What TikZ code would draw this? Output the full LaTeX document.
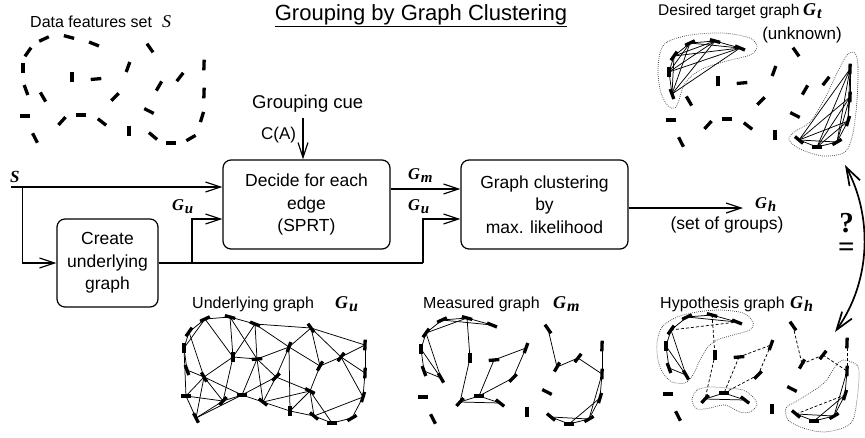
\documentclass[tikz,border=0pt]{standalone}
\usepackage{fontspec}
\setmainfont{Liberation Sans}
\newfontfamily\tms{Liberation Serif}
\usetikzlibrary{arrows.meta}
\newcommand\glab[4]{{\tms\bfseries\itshape\fontsize{#1}{#1}\selectfont #3\kern0.8pt\raisebox{-0.2em}{\fontsize{#2}{#2}\selectfont #4}}}
\def\featlist{1/28/52/55,2/44/39/25,3/69/37/-15,4/94/44/-22,5/150/48/-55,6/204/65/88,7/23/68/90,8/72/77/90,9/96/79/5,10/128/67/70,11/180/77/52,12/159/86/60,13/26/90/-70,14/43/97/-60,15/115/97/45,16/204/93/88,17/25/116/0,18/62/121/48,19/81/115/0,20/102/122/-38,21/149/111/-27,22/202/117/73,23/35/138/-63,24/129/131/90,25/153/136/-40,26/171/143/0,27/191/138/30}
\newcommand\placefeatures[3]{\foreach \i/\x/\y/\a in \featlist {\coordinate (#1\i) at ({#2+\x},{#3+\y});}}
\newcommand\drawfeatures[1]{\foreach \i/\x/\y/\a in \featlist {\draw[fd] (#1\i) ++({-(\a)}:5.3) -- ++({180-(\a)}:10.6);}}
\begin{document}
\begin{tikzpicture}[x=1pt,y=-1pt,
  fd/.style={line width=3.3pt, line cap=butt},
  ge/.style={line width=0.75pt},
  gd/.style={line width=0.75pt, dash pattern=on 3pt off 2pt},
  outl/.style={line width=0.7pt, dash pattern=on 0.8pt off 1.2pt, black!75},
  box/.style={draw, line width=1.2pt, rounded corners=8pt, align=center, inner sep=0pt, font=\fontsize{17.5}{22.5}\selectfont},
  ln/.style={line width=1.2pt},
  conn/.style={line width=1.2pt, -{Straight Barb[length=15pt,width=10pt]}},
  txt/.style={inner sep=0pt, anchor=base west}]
\useasboundingbox (0,0) rectangle (865,437);

% titles and captions
\node[txt, anchor=base, font=\fontsize{22}{22}\selectfont] (title) at (421,20.5) {Grouping by Graph Clustering};
\draw[line width=1.1pt] ([yshift=-1pt]title.south west) -- ([yshift=-1pt]title.south east);
\node[txt, font=\fontsize{16}{16}\selectfont] (dfs) at (30,27.3) {Data features set\hspace{10pt}{\tms\itshape\fontsize{18}{18}\selectfont S}};
\node[txt, font=\fontsize{15.5}{15.5}\selectfont] (dtg) at (658,15) {Desired target graph};
\node[txt] (gt) at (803,15) {\glab{18}{16}{G}{t}};
\node[txt, anchor=base, font=\fontsize{17}{17}\selectfont] (unk) at (802,39) {(unknown)};
\node[txt, font=\fontsize{16}{16}\selectfont] (cu) at (192,308) {Underlying graph};
\node[txt] (cug) at (335,308) {\glab{18}{16}{G}{u}};
\node[txt, font=\fontsize{16}{16}\selectfont] (cm) at (423,308) {Measured graph};
\node[txt] (cmg) at (553,308) {\glab{18}{16}{G}{m}};
\node[txt, font=\fontsize{16}{16}\selectfont] (ch) at (660,308) {Hypothesis graph};
\node[txt] (chg) at (790,308) {\glab{18}{16}{G}{h}};

% flow chart
\node[box, minimum width=167pt, minimum height=89pt] (decide) at (306.5,204.5) {Decide for each\\edge\\(SPRT)};
\node[box, minimum width=167pt, minimum height=89pt] (clust) at (544.5,204.5) {Graph clustering\\by\\max. likelihood};
\node[box, minimum width=101pt, minimum height=88pt] (create) at (107.5,263) {Create\\underlying\\graph};

\node[txt, font=\fontsize{18.5}{18.5}\selectfont] (cue) at (252,108.3) {Grouping cue};
\node[txt, font=\fontsize{17}{17}\selectfont] (ca) at (261,139.5) {C(A)};
\coordinate (cuetop) at (303,118);
\draw[conn] (cuetop) -- (cuetop |- decide.north);

\coordinate (sstart) at (11,187);
\coordinate (sbr) at (22.7,187);
\draw[conn] (sstart) -- (sstart -| decide.west);
\draw[conn] (sbr) |- (create.west);
\node[txt] (slab) at (10,182) {\glab{17}{15}{S}{}};

\coordinate (gujoin) at (192,263);
\coordinate (gu1) at (192,219);
\coordinate (gucorner) at (423,263);
\coordinate (gu2) at (423,219);
\draw[ln] (create.east) -- (gucorner);
\draw[conn] (gujoin) -- (gu1) -- (gu1 -| decide.west);
\draw[conn] (gucorner) -- (gu2) -- (gu2 -| clust.west);
\coordinate (gmy) at (400,189);
\draw[conn] (decide.east |- gmy) -- (clust.west |- gmy);
\coordinate (gh) at (743,208);
\draw[conn] (clust.east |- gh) -- (gh);
\node[txt] (gul) at (172,210) {\glab{16.5}{15}{G}{u}};
\node[txt] (gml) at (408,179.5) {\glab{16.5}{15}{G}{m}};
\node[txt] (gur) at (408,210) {\glab{16.5}{15}{G}{u}};
\node[txt] (ghl) at (755,208) {\glab{16.5}{15}{G}{h}};
\node[txt, anchor=base, font=\fontsize{17.5}{17.5}\selectfont] (sog) at (727,229) {(set of groups)};

% compare arrow
\coordinate (qa) at (845,165);
\coordinate (qb) at (835,332);
\draw[line width=1.7pt, {Straight Barb[length=18pt,width=12pt]}-{Straight Barb[length=18pt,width=12pt]}] (qa) .. controls (872,215) and (872,280) .. (qb);
\node[inner sep=0pt, align=center, font=\tms\bfseries\fontsize{29}{23.5}\selectfont] (qeq) at (846.5,235) {?\\=};

% feature sets
\placefeatures{A}{0}{0}
\placefeatures{T}{646}{4}
\placefeatures{U}{161}{280}
\placefeatures{M}{398}{281}
\placefeatures{H}{643}{278}

% target graph
\draw[outl, shift={(646,4)}] plot[smooth cycle] coordinates {(14,49) (21,38) (44,31) (77,29) (104,34) (111,43) (104,51) (77,58) (54,66) (39,79) (33,96) (29,104) (22,102) (15,89) (12,69)};
\draw[outl, shift={(646,4)}] plot[smooth cycle] coordinates {(209,49) (212,63) (211,96) (207,129) (199,148) (177,152) (154,145) (143,136) (148,128) (164,118) (179,94) (191,69) (201,51)};
\foreach \p in {1,2,3,4,7,13}{\foreach \q in {1,2,3,4,7,13}{\ifnum\p<\q\relax \draw[ge] (T\p) -- (T\q);\fi}}
\foreach \p in {6,16,22,25,26,27}{\foreach \q in {6,16,22,25,26,27}{\ifnum\p<\q\relax \draw[ge] (T\p) -- (T\q);\fi}}

% underlying graph
\foreach \p/\q in {1/2,2/3,3/4,4/5,5/6,1/7,2/7,7/13,7/17,13/14,1/14,2/8,3/8,3/9,4/8,4/9,8/9,8/14,8/18,9/19,9/10,9/15,9/20,4/10,14/17,14/18,14/23,14/19,17/18,17/23,18/23,19/23,18/19,19/20,15/20,15/19,10/15,5/10,5/12,5/11,10/12,11/6,11/12,11/22,6/16,16/22,12/21,10/24,21/24,21/25,21/26,24/25,25/26,26/27,25/22,27/22,15/21,20/21,20/24,11/16}
  \draw[ge] (U\p) -- (U\q);

% measured graph
\foreach \p/\q in {1/2,1/3,2/3,3/4,2/4,3/8,8/18,1/7,7/13,1/14,13/14,7/14,18/19,18/20,19/20,9/19,9/10,10/15,15/19,5/12,12/11,11/16,6/16,16/22,22/27,16/27,25/26,26/27,25/27,22/26}
  \draw[ge] (M\p) -- (M\q);

% hypothesis graph
\draw[outl, shift={(643,278)}] plot[smooth cycle] coordinates {(14,65) (19,49) (34,39) (54,34) (77,32) (100,35) (110,44) (107,52) (90,57) (74,62) (64,70) (56,84) (50,97) (42,105) (29,104) (20,95) (15,82)};
\draw[outl, shift={(643,278)}] plot[smooth cycle] coordinates {(49,122) (54,112) (67,109) (84,110) (100,112) (110,119) (114,127) (107,134) (97,134) (82,127) (67,130) (54,131)};
\draw[outl, shift={(643,278)}] plot[smooth cycle] coordinates {(200,82) (214,87) (216,99) (214,122) (210,142) (200,150) (180,154) (160,150) (145,142) (143,130) (152,124) (167,115) (182,104) (192,89)};
\foreach \p/\q in {1/2,2/3,3/4,2/4,1/7,7/13,1/14,13/14,7/14,18/19,19/20,18/20,16/22,22/27,16/27,25/26,26/27,25/27,22/26}
  \draw[ge] (H\p) -- (H\q);
\foreach \p/\q in {1/4,3/8,8/18,9/19,9/10,10/15,15/19,5/12,12/11,11/16,6/16,25/22}
  \draw[gd] (H\p) -- (H\q);

\drawfeatures{A}
\drawfeatures{T}
\drawfeatures{U}
\drawfeatures{M}
\drawfeatures{H}
\end{tikzpicture}
\end{document}
